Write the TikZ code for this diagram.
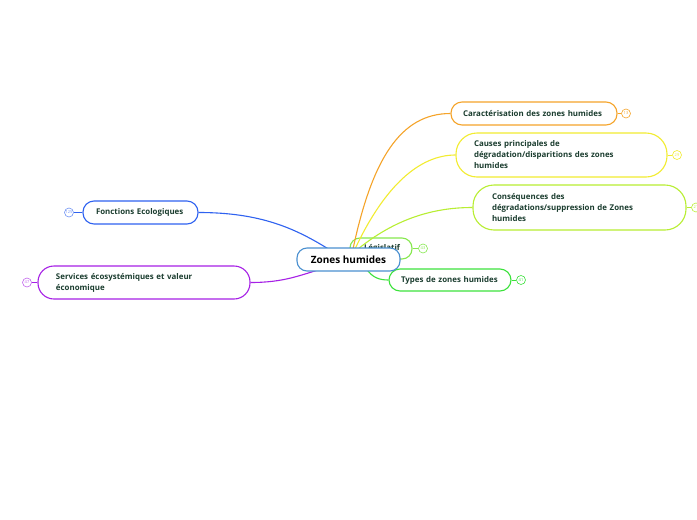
\documentclass[tikz,border=0pt]{standalone}
\usepackage{fontspec}
\setmainfont{Open Sans}
\definecolor{txt}{HTML}{1B3D2F}
\definecolor{cor}{HTML}{F5A42A}
\definecolor{cye}{HTML}{F2EC30}
\definecolor{cyg}{HTML}{B8EE32}
\definecolor{clg}{HTML}{86E84E}
\definecolor{cgr}{HTML}{3CE23C}
\definecolor{cbl}{HTML}{2F62F0}
\definecolor{cpu}{HTML}{A620E6}
\definecolor{cce}{HTML}{4A90D0}
\tikzset{
  topic/.style={draw, line width=1.1pt, fill=white, font=\fontsize{7.9}{11}\selectfont\bfseries, text=txt, align=left, anchor=center},
  badge/.style={draw, circle, line width=0.6pt, inner sep=0pt, minimum size=9pt, font=\fontsize{4}{4}\selectfont, fill=white},
  conn/.style={line width=1.1pt},
}
\begin{document}
\begin{tikzpicture}[x=1pt,y=-1pt]
\useasboundingbox[fill=white] (0,0) rectangle (697,520);
% Legislatif (behind)
\node[topic, draw=clg, minimum width=62pt, minimum height=21pt, text width=46pt, inner xsep=8pt, rounded corners=10pt, text depth=2pt] (leg) at (381,248.5) {\hspace*{6pt}Législatif};
\node[badge, draw=clg, text=clg] (bleg) at (423,248.5) {43};
\draw[clg, line width=0.8pt] (leg.east) -- (bleg.west);
% connectors
\coordinate (c1) at (353,249);
\coordinate (c2) at (355,249);
\coordinate (c3) at (358,249);
\coordinate (c4) at (366,268);
\coordinate (c5) at (330,250);
\coordinate (c6) at (325,268);
\node[topic, draw=cor, minimum width=166pt, minimum height=23pt, text width=142pt, inner xsep=12pt, rounded corners=11pt] (car) at (534,113.5) {Caractérisation des zones humides};
\node[topic, draw=cye, minimum width=211pt, minimum height=44pt, text width=175pt, inner xsep=18pt, rounded corners=21pt] (cau) at (561.5,155) {Causes principales de\\dégradation/disparitions des zones\\humides};
\node[topic, draw=cyg, minimum width=213pt, minimum height=45pt, text width=175pt, inner xsep=19pt, rounded corners=21pt] (con) at (579.5,207.5) {Conséquences des\\dégradations/suppression de Zones\\humides};
\node[topic, draw=cgr, minimum width=122pt, minimum height=22pt, text width=98pt, inner xsep=12pt, rounded corners=11pt] (typ) at (450,280) {Types de zones humides};
\node[topic, draw=cbl, minimum width=115pt, minimum height=23pt, text width=89pt, inner xsep=13pt, rounded corners=11pt] (fon) at (140.5,212.5) {Fonctions Ecologiques};
\node[topic, draw=cpu, minimum width=212pt, minimum height=33pt, text width=176pt, inner xsep=18pt, rounded corners=16pt] (ser) at (144,282.5) {Services écosystémiques et valeur\\économique};
% badges
\node[badge, draw=cor, text=cor] (bcar) at (626,113.5) {13};
\node[badge, draw=cye, text=cye] (bcau) at (677,155) {29};
\node[badge, draw=cyg, text=cyg] (bcon) at (696,207.5) {21};
\node[badge, draw=cgr, text=cgr] (btyp) at (521,280) {41};
\node[badge, draw=cbl!70, text=cbl!70] (bfon) at (69,212.5) {125};
\node[badge, draw=cpu!70, text=cpu!70] (bser) at (27,282.5) {47};
\draw[cor, line width=0.8pt] (car.east) -- (bcar.west);
\draw[cye, line width=0.8pt] (cau.east) -- (bcau.west);
\draw[cyg, line width=0.8pt] (con.east) -- (bcon.west);
\draw[cgr, line width=0.8pt] (typ.east) -- (btyp.west);
\draw[cbl, line width=0.8pt] (fon.west) -- (bfon.east);
\draw[cpu, line width=0.8pt] (ser.west) -- (bser.east);
% curves
\draw[conn, cor] (c1) .. controls (372,160) and (400,113.5) .. (car.west);
\draw[conn, cye] (c2) .. controls (385,185) and (420,155) .. (cau.west);
\draw[conn, cyg] (c3) .. controls (400,215) and (440,207.5) .. (con.west);
\draw[conn, cgr] (c4) .. controls (372,278) and (380,280) .. (typ.west);
\draw[conn, cbl] (fon.east) .. controls (260,212.5) and (295,228) .. (c5);
\draw[conn, cpu] (ser.east) .. controls (285,282.5) and (300,275) .. (c6);
% center
\node[draw=cce, line width=1.1pt, fill=white, rounded corners=10pt, minimum width=103pt, minimum height=23pt, font=\fontsize{10}{12}\selectfont\bfseries, text=black] (cen) at (348.5,259.5) {Zones humides};
\end{tikzpicture}
\end{document}
